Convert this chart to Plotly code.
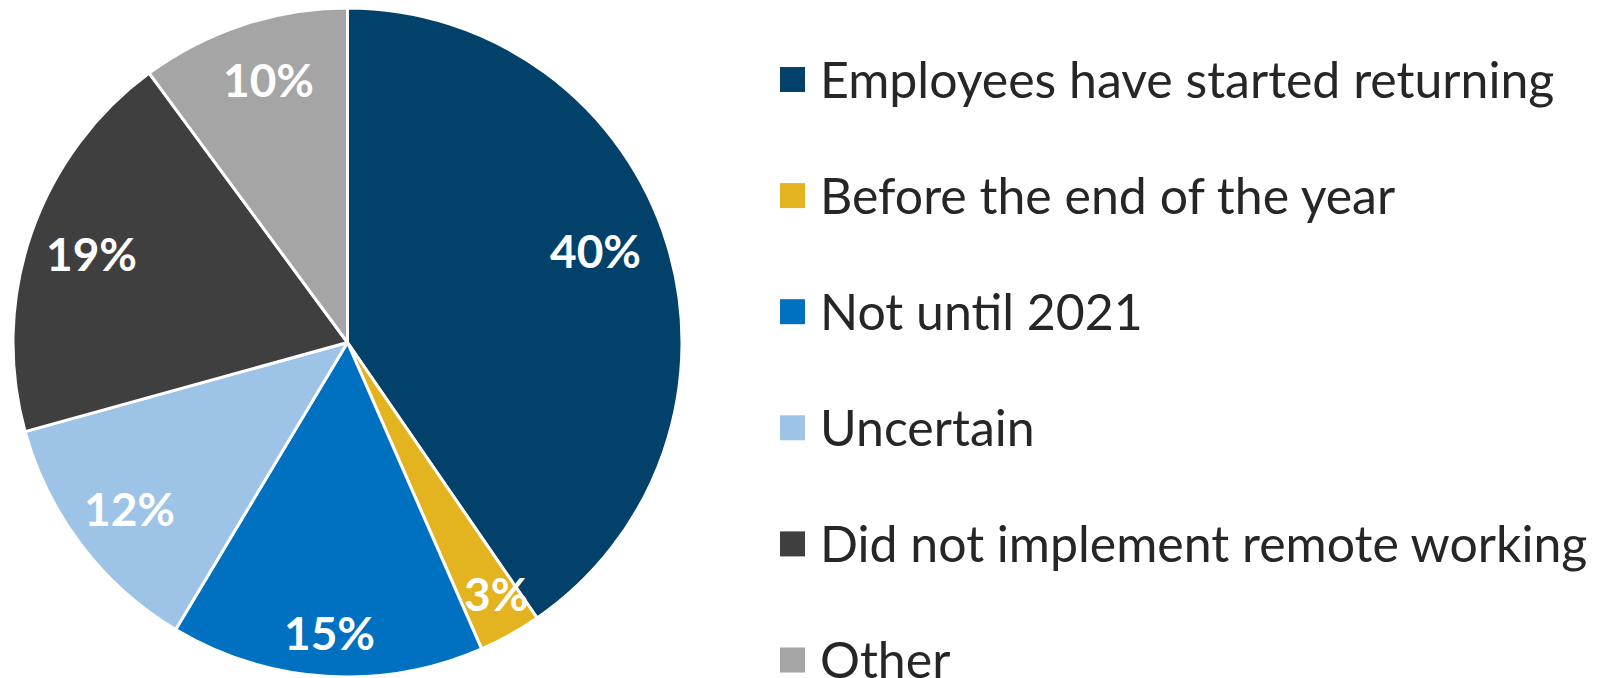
import math
import plotly.graph_objects as go

labels = ["Employees have started returning", "Before the end of the year", "Not until 2021",
          "Uncertain", "Did not implement remote working", "Other"]
values = [40, 3, 15, 12, 19, 10]
pct_text = ["40%", "3%", "15%", "12%", "19%", "10%"]
colors = ["#02416A", "#E4B320", "#0070C0", "#9DC3E6", "#3F3F3F", "#A5A5A5"]

# style: how far out (fraction of radius) each percentage label sits, and a small angular nudge (deg)
label_radius = [0.79, 0.87, 0.87, 0.82, 0.81, 0.82]
label_nudge = [-3, -1.5, 0, 0, 0, 1.5]

# the page body has an 8px margin, so the figure is 8px smaller than the window
W, H = 1592, 670
FONT = "Lato, 'Open Sans', sans-serif"

# pie geometry in figure pixels
px0, px1 = 5, 674
py0, py1 = 0, 669
cx, cy = (px0 + px1) / 2, (py0 + py1) / 2
R = (px1 - px0) / 2

fig = go.Figure()
fig.add_trace(go.Pie(
    labels=labels, values=values, text=pct_text,
    textinfo="none", sort=False, direction="clockwise", rotation=0,
    marker=dict(colors=colors, line=dict(color="white", width=3)),
    domain=dict(x=[px0 / W, px1 / W], y=[1 - py1 / H, 1 - py0 / H]),
    showlegend=False, hoverinfo="label+text",
))

# percentage labels placed at the middle angle of each slice
total = sum(values)
cum = 0
for v, t, rf, nd in zip(values, pct_text, label_radius, label_nudge):
    mid = (cum + v / 2) / total * 2 * math.pi + math.radians(nd)
    cum += v
    lx = cx + rf * R * math.sin(mid)
    ly = cy - rf * R * math.cos(mid)
    fig.add_annotation(xref="paper", yref="paper", x=lx / W, y=1 - ly / H,
                       xanchor="center", yanchor="middle", showarrow=False,
                       text=t, font=dict(family=FONT, size=46, color="white", weight="bold"))

# manual legend with the chart's large item spacing
sq = 25
x0 = 772
y_first = 71.5
step = 116.1
for i, (lab, col) in enumerate(zip(labels, colors)):
    yc = y_first + i * step
    fig.add_shape(type="rect", xref="paper", yref="paper",
                  x0=x0 / W, x1=(x0 + sq) / W,
                  y0=1 - (yc - sq / 2) / H, y1=1 - (yc + sq / 2) / H,
                  fillcolor=col, line=dict(width=0))
    fig.add_annotation(xref="paper", yref="paper", x=810 / W, y=1 - (yc - 1) / H,
                       xanchor="left", yanchor="middle", showarrow=False,
                       text=lab, font=dict(family=FONT, size=50, color="#262626"))

fig.update_layout(
    width=W, height=H, margin=dict(l=0, r=0, t=0, b=0),
    paper_bgcolor="white", plot_bgcolor="white",
)
fig.write_html("out.html")
